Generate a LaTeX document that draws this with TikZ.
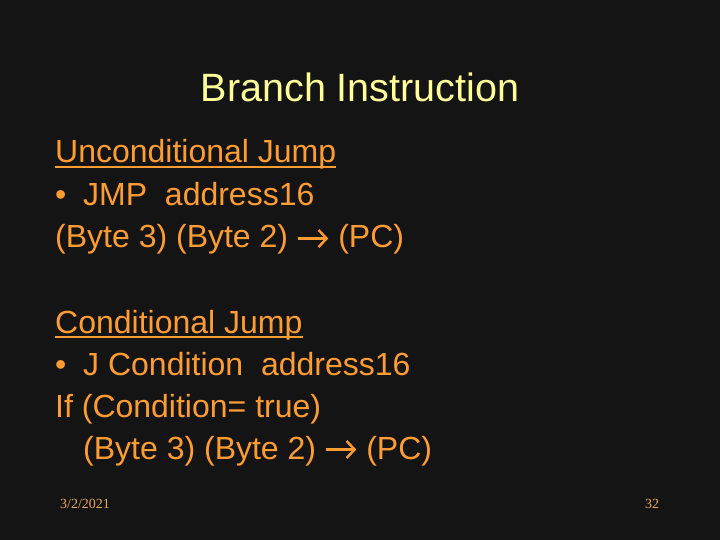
\documentclass[tikz,border=0pt]{standalone}
\usepackage{fontspec}
\setmainfont{Liberation Sans}
\newfontfamily\footfont{Liberation Serif}
\usetikzlibrary{positioning,arrows.meta}
\definecolor{slidebg}{HTML}{141414}
\definecolor{titlecol}{HTML}{FFFF99}
\definecolor{bodycol}{HTML}{FF9C33}
\definecolor{footcol}{HTML}{E8A860}

\tikzset{
	body/.style={anchor=base west, inner sep=0pt, text=bodycol, font=\fontsize{32bp}{38bp}\selectfont},
	foot/.style={anchor=base west, inner sep=0pt, text=footcol, font=\footfont\fontsize{14bp}{16bp}\selectfont},
	uline/.style={draw=bodycol, line width=1.8bp}
}
\newcommand{\gives}{\tikz[baseline=0pt]\draw[draw=bodycol, line width=2.4bp, -{Straight Barb[length=8bp, width=17bp, line width=2.4bp]}] (0bp,9.5bp) -- (30bp,9.5bp);}

\begin{document}
\begin{tikzpicture}[x=1bp, y=-1bp]
	\fill[slidebg] (0,0) rectangle (720,540);
	\node[anchor=base, inner sep=0pt, text=titlecol, font=\fontsize{39.5bp}{46bp}\selectfont] (title) at (360,102) {Branch Instruction};
	% first block
	\node[body] (u1) at (55,163) {Unconditional Jump};
	\node[body] (b1) at (55,206) {\textbullet};
	\node[body] (l1) at (83,206) {JMP\ \ address16};
	\node[body] (l2) at (55,248) {(Byte 3) (Byte 2) \gives{} (PC)};
	% second block
	\node[body] (u2) at (55,333) {Conditional Jump};
	\node[body] (b2) at (55,375) {\textbullet};
	\node[body] (l3) at (83,375) {J Condition\ \ address16};
	\node[body] (l4) at (55,417) {If (Condition= true)};
	\node[body] (l5) at (83,459) {(Byte 3) (Byte 2) \gives{} (PC)};
	\path[uline]
	([yshift=-4bp]u1.base west) -- ([yshift=-4bp]u1.base east)
	([yshift=-4bp]u2.base west) -- ([yshift=-4bp]u2.base east);
	% footer
	\node[foot] (date) at (60,508) {3/2/2021};
	\node[foot] (page) at (645,508) {32};
\end{tikzpicture}
\end{document}
